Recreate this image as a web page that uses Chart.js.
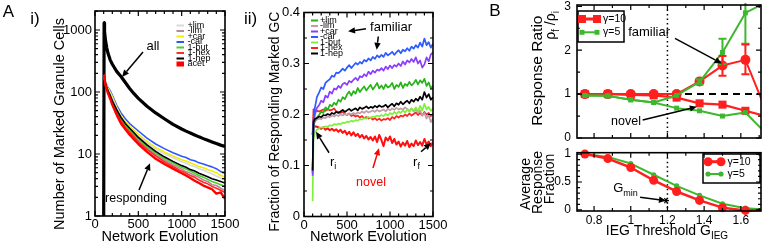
<!DOCTYPE html>
<html>
<head>
<meta charset="utf-8">
<script src="https://cdn.jsdelivr.net/npm/chart.js@4.4.1/dist/chart.umd.min.js"></script>
<style>
  html, body { margin: 0; padding: 0; background: #fff; }
  body { position: relative; width: 763px; height: 246px; overflow: hidden; }
  canvas { position: absolute; }
</style>
</head>
<body>
<canvas id="cA1" width="240" height="246" style="left:0px;top:0px"></canvas>
<canvas id="cA2" width="210" height="246" style="left:240px;top:0px"></canvas>
<canvas id="cB1" width="283" height="146" style="left:480px;top:0px"></canvas>
<canvas id="cB2" width="283" height="106" style="left:480px;top:140px"></canvas>
<script>
// ---- panel A i) : number of marked granule cells (log axis) ----
const TIME_A1 = [100,105,110,120,135,150,175,200,250,300,350,400,450,500,600,700,800,900,1000,1050,1100,1150,1200,1250,1300,1350,1400,1450,1500];
const ALL_A1       = [0.5,1300,950,700,520,420,330,280,215,178,142,114,94,79,59,46,37,30,25.3,23.4,21.8,20.3,18.9,17.7,16.6,15.6,14.7,13.9,13.2];
const PLUS_LIM_A1  = [null,185,166,144,124,110,95,79,54,40,31.5,26.5,22.5,19.5,15,12,10.1,8.7,7.5,7.1,6.6,6.3,5.8,5.5,5.1,4.8,4.4,4.1,3.8];
const MINUS_LIM_A1 = [null,185,163,136,116,100,83,67,48,36,28.5,23.8,20,16.8,12.6,9.8,8.0,6.7,5.7,5.2,4.9,4.5,4.2,3.8,3.6,3.2,3.1,2.8,2.6];
const PLUS_CAR_A1  = [null,185,168,147,127,114,100,84,57,42,33.5,28,24,20.8,16,12.8,10.8,9.3,8.1,7.7,7.2,6.8,6.3,6.0,5.6,5.3,5.0,4.5,4.3];
const MINUS_CAR_A1 = [null,185,170,150,130,118,105,88,61,46,37,31,27,23.5,18,14.5,12.2,10.5,9.2,8.8,8.1,7.8,7.2,6.9,6.5,6.2,5.8,5.2,5.0];
const BUT_A1       = [null,185,164,138,118,103,86,70,50,37.5,29.5,24.8,21,17.6,13.3,10.4,8.5,7.2,6.1,5.7,5.3,4.9,4.5,4.2,3.9,3.6,3.4,3.2,3.0];
const HEX_A1       = [null,185,162,134,113,97,80,64,46,34,27,22.5,19,15.8,11.9,9.3,7.5,6.3,5.3,4.9,4.5,4.2,3.8,3.5,3.3,3.0,2.8,2.6,2.4];
const HEP_A1       = [null,185,165,140,120,105,88,72,52,39,31,26,22,18.5,14,11,9.0,7.6,6.5,6.1,5.6,5.3,4.9,4.6,4.3,4.0,3.8,3.6,3.4];
const ACET_A1      = [null,185,160,130,110,95,78,62,43,31,25,20.5,17.2,14.5,10.8,8.4,6.9,5.8,4.9,4.5,4.1,3.7,3.4,3.1,2.9,2.7,2.3,2.4,1.9];

// ---- panel A ii) : fraction of responding marked GC ----
const TIME_A2 = [100,110,125,150,175,200,225,250,275,300,325,350,375,400,425,450,475,500,525,550,575,600,625,650,675,700,725,750,775,800,825,850,875,900,925,950,975,1000,1025,1050,1075,1100,1125,1150,1175,1200,1225,1250,1275,1300,1325,1350,1375,1400,1425,1450,1475,1500];
const PLUS_LIM_A2 = [.085,.175,.186,.194,.199,.206,.203,.214,.209,.219,.216,.223,.219,.229,.225,.234,.230,.239,.245,.237,.246,.241,.252,.244,.250,.255,.247,.253,.258,.249,.255,.262,.251,.257,.250,.259,.253,.256,.262,.250,.258,.254,.263,.252,.260,.256,.264,.257,.261,.268,.259,.267,.262,.270,.256,.263,.251,.257];
const MINUS_LIM_A2 = [.085,.180,.186,.190,.192,.191,.194,.193,.196,.195,.198,.196,.199,.197,.200,.198,.201,.199,.202,.200,.203,.201,.204,.202,.206,.203,.207,.204,.206,.208,.205,.209,.206,.208,.210,.206,.211,.208,.212,.209,.213,.210,.212,.209,.214,.211,.207,.212,.206,.210,.204,.208,.198,.203,.192,.199,.185,.193];
const PLUS_CAR_A2 = [.080,.180,.198,.213,.218,.227,.224,.237,.233,.245,.241,.251,.249,.256,.252,.260,.262,.258,.266,.263,.268,.272,.267,.275,.273,.279,.275,.284,.279,.286,.282,.288,.286,.291,.286,.294,.289,.296,.291,.297,.294,.300,.295,.304,.298,.306,.302,.309,.303,.312,.300,.306,.292,.298,.312,.304,.318,.322];
const MINUS_CAR_A2 = [.090,.190,.212,.234,.243,.253,.250,.262,.266,.269,.276,.274,.282,.281,.285,.290,.286,.292,.297,.291,.296,.301,.298,.303,.300,.307,.304,.310,.306,.313,.309,.316,.312,.317,.313,.321,.316,.319,.323,.317,.322,.326,.320,.327,.324,.330,.325,.333,.329,.336,.331,.341,.333,.349,.336,.342,.331,.339];
const BUT_A2 = [.030,.150,.165,.170,.173,.175,.174,.177,.176,.179,.178,.181,.180,.182,.181,.184,.183,.186,.185,.188,.186,.189,.188,.191,.190,.193,.192,.195,.193,.196,.195,.198,.196,.199,.197,.201,.198,.203,.200,.205,.201,.206,.203,.208,.204,.210,.205,.212,.207,.214,.206,.217,.208,.221,.210,.215,.207,.212];
const HEX_A2 = [.160,.210,.209,.207,.206,.208,.210,.207,.211,.208,.209,.212,.206,.205,.203,.205,.201,.199,.202,.197,.199,.196,.198,.194,.197,.193,.195,.192,.194,.190,.193,.189,.192,.188,.191,.190,.193,.189,.195,.192,.197,.194,.198,.196,.200,.197,.202,.198,.201,.204,.199,.203,.198,.205,.200,.203,.197,.201];
const HEP_A2 = [.090,.185,.191,.193,.196,.195,.199,.198,.201,.199,.203,.201,.205,.203,.206,.209,.205,.208,.211,.207,.210,.212,.208,.214,.211,.213,.216,.212,.215,.213,.217,.214,.218,.215,.216,.219,.214,.218,.221,.216,.222,.219,.225,.220,.224,.227,.222,.229,.225,.231,.227,.235,.229,.244,.233,.240,.229,.234];
const ACET_A2 = [.160,.175,.177,.176,.174,.172,.175,.170,.173,.169,.172,.168,.171,.166,.170,.164,.168,.161,.166,.159,.165,.158,.162,.155,.160,.153,.158,.151,.156,.149,.157,.146,.160,.150,.138,.155,.149,.157,.144,.152,.141,.147,.137,.145,.139,.148,.136,.143,.138,.149,.140,.146,.139,.152,.141,.147,.138,.146];

// ---- panel B : response ratio / average response fraction vs IEG threshold ----
const G_IEG = [0.75,0.875,1.0,1.125,1.25,1.375,1.5,1.625,1.75];
const RATIO_FAM_G10 = [1.0,1.0,1.0,1.0,1.0,1.29,1.65,1.78,0.5];
const RATIO_NOV_G10 = [1.0,1.0,0.98,0.97,0.92,0.79,0.76,0.62,0.48];
const RATIO_FAM_G5  = [0.97,0.96,0.87,0.81,0.97,1.28,1.95,2.85,3.12];
const RATIO_NOV_G5  = [0.97,0.96,0.87,0.81,0.68,0.62,0.50,0.58,0.05];
const ERR_LO_G10 = [null,null,null,null,null,null,1.42,1.45,null];
const ERR_HI_G10 = [null,null,null,null,null,null,1.87,2.13,null];
const ERR_LO_G5  = [null,null,null,null,null,1.22,1.68,2.15,null];
const ERR_HI_G5  = [null,null,null,null,null,1.34,2.26,3.3,null];
const FRAC_G10 = [1.0,0.92,0.76,0.53,0.33,0.17,0.04,-0.01,0.0];
const FRAC_G5  = [1.0,0.95,0.83,0.63,0.43,0.26,0.11,0.03,0.0];

// tick labels
const X_TICKS_A = [0,500,1000,1500];
const Y_TICKS_A1 = [1,10,100,1000];
const Y_TICKS_A2 = [0,0.1,0.2,0.3,0.4];
const X_TICKS_B = [0.8,1,1.2,1.4,1.6];
const Y_TICKS_B1 = [0,1,2,3];
const Y_TICKS_B2 = [0,0.5,1];

const FONT = '"Liberation Sans", Arial, Helvetica, sans-serif';
Chart.defaults.font.family = FONT;
Chart.defaults.color = '#000';
Chart.defaults.animation = false;
Chart.defaults.events = [];
Chart.defaults.plugins.legend.display = false;
Chart.defaults.plugins.tooltip.enabled = false;

const RED = '#ff1f1f', GREEN = '#3db82e';

const pts = (xs, ys) => xs.map((x, i) => ({ x, y: ys[i] }));

function steps(a, b, d, skip) {
  const out = [];
  for (let v = a; v <= b + 1e-9; v += d) {
    const r = +v.toFixed(4);
    if (skip && Math.abs(r / skip - Math.round(r / skip)) < 1e-6) continue;
    out.push(r);
  }
  return out;
}

function line(label, xs, ys, color, width, order, extra) {
  return Object.assign({
    label, data: pts(xs, ys), borderColor: color, backgroundColor: color,
    borderWidth: width, pointRadius: 0, tension: 0, order, clip: 0,
    borderJoinStyle: 'round'
  }, extra || {});
}

function axis(o) {
  return {
    type: o.type || 'linear', min: o.min, max: o.max, display: o.display !== false,
    afterBuildTicks: s => { s.ticks = o.ticks.map(v => ({ value: v })); },
    afterFit: s => {
      if (o.w != null) s.width = o.w;
      if (o.h != null) s.height = o.h;
      s.paddingLeft = s.paddingRight = s.paddingTop = s.paddingBottom = 0;
    },
    grid: { display: false, drawTicks: false },
    border: { display: false },
    ticks: { autoSkip: false, maxRotation: 0, minRotation: 0, padding: o.pad, font: { size: o.size }, callback: v => String(v) },
    title: o.title ? { display: true, text: o.title, font: { size: 14.5 }, padding: 0 } : { display: false }
  };
}

// inward ticks on all four sides + box
function makeFrame(t) {
  return {
    id: 'frame',
    afterDatasetsDraw(chart) {
      const { ctx, chartArea: a } = chart;
      const xs = chart.scales.x, ys = chart.scales.y;
      ctx.save();
      ctx.strokeStyle = '#000';
      ctx.lineWidth = 1.2;
      ctx.beginPath();
      const vx = (vals, len) => vals.forEach(v => {
        const p = xs.getPixelForValue(v);
        ctx.moveTo(p, a.bottom); ctx.lineTo(p, a.bottom - len);
        ctx.moveTo(p, a.top); ctx.lineTo(p, a.top + len);
      });
      const vy = (vals, len) => vals.forEach(v => {
        const p = ys.getPixelForValue(v);
        ctx.moveTo(a.left, p); ctx.lineTo(a.left + len, p);
        ctx.moveTo(a.right, p); ctx.lineTo(a.right - len, p);
      });
      vx(t.xMajor, 5); vx(t.xMinor, 3); vy(t.yMajor, 5); vy(t.yMinor, 3);
      ctx.stroke();
      ctx.lineWidth = 1.6;
      ctx.strokeRect(a.left, a.top, a.right - a.left, a.bottom - a.top);
      ctx.restore();
    }
  };
}

function drawText(ctx, x, y, it) {
  const size = it.size || 12, ss = Math.round(size * 0.68);
  const parts = it.sub ? [[it.text, false], [it.sub, true]] : (it.parts || [[it.text, false]]);
  ctx.save();
  ctx.translate(x, y);
  if (it.rot) ctx.rotate(it.rot * Math.PI / 180);
  ctx.fillStyle = it.color || '#000';
  ctx.textBaseline = 'middle';
  ctx.textAlign = 'left';
  let w = 0;
  parts.forEach(([s, sub]) => { ctx.font = (sub ? ss : size) + 'px ' + FONT; w += ctx.measureText(s).width; });
  let cx = it.align === 'left' ? 0 : -w / 2;
  parts.forEach(([s, sub]) => {
    ctx.font = (sub ? ss : size) + 'px ' + FONT;
    ctx.fillText(s, cx, sub ? size * 0.38 : 0);
    cx += ctx.measureText(s).width;
  });
  ctx.restore();
}

function arrow(ctx, x1, y1, x2, y2, color, width) {
  const ang = Math.atan2(y2 - y1, x2 - x1), hl = 7, hw = 3.2;
  const bx = x2 - hl * Math.cos(ang), by = y2 - hl * Math.sin(ang);
  ctx.strokeStyle = ctx.fillStyle = color;
  ctx.lineWidth = width;
  ctx.beginPath(); ctx.moveTo(x1, y1); ctx.lineTo(bx, by); ctx.stroke();
  ctx.beginPath();
  ctx.moveTo(x2, y2);
  ctx.lineTo(bx - hw * Math.sin(ang), by + hw * Math.cos(ang));
  ctx.lineTo(bx + hw * Math.sin(ang), by - hw * Math.cos(ang));
  ctx.closePath(); ctx.fill();
}

// annotations: data coords by default, page coords when page:true
function makeNotes(items, ox, oy) {
  const at = (chart, it, p) => it.page ? [p[0] - ox, p[1] - oy]
    : [chart.scales.x.getPixelForValue(p[0]), chart.scales.y.getPixelForValue(p[1])];
  const draw = (chart, below) => {
    const { ctx, chartArea: a } = chart;
    items.filter(it => !!it.below === below).forEach(it => {
      ctx.save();
      if (it.type === 'hline' || it.type === 'vline') {
        ctx.strokeStyle = '#000'; ctx.lineWidth = it.width; ctx.setLineDash(it.dash);
        ctx.beginPath();
        if (it.type === 'hline') {
          const y = chart.scales.y.getPixelForValue(it.value);
          ctx.moveTo(a.left, y); ctx.lineTo(a.right, y);
        } else {
          const x = chart.scales.x.getPixelForValue(it.value);
          ctx.moveTo(x, a.top); ctx.lineTo(x, a.bottom);
        }
        ctx.stroke();
      } else if (it.type === 'err') {
        ctx.beginPath(); ctx.rect(a.left, a.top - 2, a.right - a.left, a.bottom - a.top + 4); ctx.clip();
        ctx.strokeStyle = it.color; ctx.lineWidth = 2;
        ctx.beginPath();
        it.x.forEach((xv, i) => {
          if (it.lo[i] == null) return;
          const x = chart.scales.x.getPixelForValue(xv);
          const y1 = chart.scales.y.getPixelForValue(it.lo[i]), y2 = chart.scales.y.getPixelForValue(it.hi[i]);
          ctx.moveTo(x, y1); ctx.lineTo(x, y2);
          ctx.moveTo(x - 4, y1); ctx.lineTo(x + 4, y1);
          ctx.moveTo(x - 4, y2); ctx.lineTo(x + 4, y2);
        });
        ctx.stroke();
      } else if (it.type === 'arrow') {
        const [x1, y1] = at(chart, it, it.from), [x2, y2] = at(chart, it, it.to);
        arrow(ctx, x1, y1, x2, y2, it.color || '#000', it.width || 1.5);
        if (it.star) {
          ctx.lineWidth = 1.2; ctx.beginPath();
          for (let k = 0; k < 3; k++) {
            const t = k * Math.PI / 3;
            ctx.moveTo(x2 - 3 * Math.cos(t), y2 - 3 * Math.sin(t));
            ctx.lineTo(x2 + 3 * Math.cos(t), y2 + 3 * Math.sin(t));
          }
          ctx.stroke();
        }
      } else {
        const [x, y] = at(chart, it, it.at);
        drawText(ctx, x, y, it);
      }
      ctx.restore();
    });
  };
  return { id: 'notes', beforeDatasetsDraw(c) { draw(c, true); }, afterDatasetsDraw(c) { draw(c, false); } };
}

function mark(ctx, ds, x, y) {
  const r = ds.pointRadius;
  ctx.fillStyle = ds.borderColor;
  ctx.beginPath();
  if (ds.pointStyle === 'rect') { const h = r * Math.SQRT1_2; ctx.rect(x - h, y - h, 2 * h, 2 * h); }
  else ctx.arc(x, y, r, 0, Math.PI * 2);
  ctx.fill();
}

function makeLegend(c) {
  return {
    id: 'legendBox',
    afterDatasetsDraw(chart) {
      const ctx = chart.ctx;
      ctx.save();
      if (c.box) {
        ctx.fillStyle = '#fff'; ctx.strokeStyle = '#000'; ctx.lineWidth = 1.5;
        ctx.fillRect(c.box[0] - c.ox, c.box[1] - c.oy, c.box[2], c.box[3]);
        ctx.strokeRect(c.box[0] - c.ox, c.box[1] - c.oy, c.box[2], c.box[3]);
      }
      c.items.forEach((di, k) => {
        const ds = chart.data.datasets[di];
        const y = c.y - c.oy + k * c.step, x0 = c.x - c.ox, x1 = x0 + c.len;
        if (ds.swatch === 'box') {
          ctx.fillStyle = ds.borderColor; ctx.fillRect(x0, y - 2.5, c.len, 5);
        } else {
          ctx.strokeStyle = ds.borderColor; ctx.lineWidth = c.lw ? c.lw[k] : 2;
          ctx.beginPath(); ctx.moveTo(x0, y); ctx.lineTo(x1, y); ctx.stroke();
        }
        if (c.marks) { mark(ctx, ds, x0 + 1, y); mark(ctx, ds, x1 - 1, y); }
        ctx.fillStyle = '#000'; ctx.font = c.size + 'px ' + FONT;
        ctx.textBaseline = 'middle'; ctx.textAlign = 'left';
        ctx.fillText(ds.label, c.tx - c.ox, y);
      });
      ctx.restore();
    }
  };
}

// ---------------- A i) ----------------
new Chart(document.getElementById('cA1'), {
  type: 'line',
  data: { datasets: [
    line('+lim', TIME_A1, PLUS_LIM_A1, '#d9d9d9', 1.6, 6),
    line('-lim', TIME_A1, MINUS_LIM_A1, '#b58a94', 1.6, 4),
    line('+car', TIME_A1, PLUS_CAR_A1, '#eeee00', 1.6, 7),
    line('-car', TIME_A1, MINUS_CAR_A1, '#2f55ff', 1.6, 8),
    line('1-but', TIME_A1, BUT_A1, '#45d12a', 1.6, 3),
    line('1-hex', TIME_A1, HEX_A1, '#ff2a2a', 1.6, 2),
    line('1-hep', TIME_A1, HEP_A1, '#000000', 1.6, 1),
    line('acet', TIME_A1, ACET_A1, '#ff0000', 2.4, 0, { swatch: 'box' }),
    line('all', TIME_A1, ALL_A1, '#000000', 3.2, 9)
  ]},
  options: {
    responsive: false,
    layout: { padding: { top: 11, right: 15, bottom: 0, left: 0 }, autoPadding: false },
    scales: {
      x: axis({ min: 0, max: 1500, ticks: X_TICKS_A, h: 30, pad: 1, size: 13, title: 'Network Evolution' }),
      y: axis({ type: 'logarithmic', min: 1, max: 2024, ticks: Y_TICKS_A1, w: 95, pad: 3, size: 13 })
    }
  },
  plugins: [
    makeNotes([
      { page: true, at: [8.3, 12.5], text: 'A', size: 17 },
      { page: true, at: [35, 19], text: 'i)', size: 17 },
      { page: true, at: [60, 124], text: 'Number of Marked Granule Cells', size: 14.5, rot: -90 },
      { at: [669, 552], text: 'all', size: 13 },
      { type: 'arrow', from: [554, 442], to: [312, 175] },
      { at: [473, 1.88], text: 'responding', size: 12.5 },
      { type: 'arrow', from: [508, 2.63], to: [635, 7.1] }
    ], 0, 0),
    makeLegend({ items: [0, 1, 2, 3, 4, 5, 6, 7], x: 176.5, len: 7.5, tx: 187.5, y: 25.5, step: 5.5, size: 9, ox: 0, oy: 0 }),
    makeFrame({
      xMajor: X_TICKS_A, xMinor: steps(100, 1400, 100, 500),
      yMajor: Y_TICKS_A1,
      yMinor: [1, 10, 100, 1000].flatMap(d => [2, 3, 4, 5, 6, 7, 8, 9].map(k => k * d)).filter(v => v < 2024)
    })
  ]
});

// ---------------- A ii) ----------------
new Chart(document.getElementById('cA2'), {
  type: 'line',
  data: { datasets: [
    line('+lim', TIME_A2, PLUS_LIM_A2, '#25b318', 1.7, 3),
    line('-lim', TIME_A2, MINUS_LIM_A2, '#c49ca6', 1.7, 5),
    line('+car', TIME_A2, PLUS_CAR_A2, '#8a3dff', 1.7, 2),
    line('-car', TIME_A2, MINUS_CAR_A2, '#2c5bff', 1.7, 1),
    line('1-but', TIME_A2, BUT_A2, '#7ef03a', 1.7, 4),
    line('1-hex', TIME_A2, HEX_A2, '#ff2020', 1.7, 6),
    line('1-hep', TIME_A2, HEP_A2, '#000000', 1.7, 0),
    line('acet', TIME_A2, ACET_A2, '#ff1010', 2, 7)
  ]},
  options: {
    responsive: false,
    layout: { padding: { top: 12.5, right: 17, bottom: 0, left: 0 }, autoPadding: false },
    scales: {
      x: axis({ min: 0, max: 1500, ticks: X_TICKS_A, h: 29.5, pad: 1, size: 13, title: 'Network Evolution' }),
      y: axis({ min: 0, max: 0.4, ticks: Y_TICKS_A2, w: 64, pad: 4, size: 13 })
    }
  },
  plugins: [
    makeNotes([
      { page: true, at: [250.5, 19.5], text: 'ii)', size: 17 },
      { page: true, at: [275, 121.7], text: 'Fraction of Responding Marked GC', size: 14, rot: -90 },
      { at: [1012, 0.371], text: 'familiar', size: 13 },
      { type: 'arrow', from: [721, 0.368], to: [512, 0.363] },
      { type: 'arrow', from: [864, 0.353], to: [845, 0.327] },
      { at: [302, 0.107], text: 'r', sub: 'i', size: 13, align: 'left' },
      { type: 'arrow', from: [291, 0.125], to: [140, 0.166] },
      { at: [779, 0.066], text: 'novel', size: 12.5, color: '#ff0000' },
      { type: 'arrow', from: [802, 0.095], to: [872, 0.134], color: '#ff0000' },
      { at: [1268, 0.107], text: 'r', sub: 'f', size: 13, align: 'left' },
      { type: 'arrow', from: [1361, 0.127], to: [1477, 0.144] }
    ], 240, 0),
    makeLegend({ items: [0, 1, 2, 3, 4, 5, 6], x: 311, len: 7, tx: 320, y: 20.5, step: 5.5, size: 9, ox: 240, oy: 0 }),
    makeFrame({
      xMajor: X_TICKS_A, xMinor: steps(100, 1400, 100, 500),
      yMajor: Y_TICKS_A2, yMinor: [0.05, 0.15, 0.25, 0.35]
    })
  ]
});

// ---------------- B top ----------------
const bClip = { left: 6, top: 6, right: 0, bottom: 6 };
new Chart(document.getElementById('cB1'), {
  type: 'line',
  data: { datasets: [
    line('γ=5', G_IEG, RATIO_FAM_G5, GREEN, 2, 0, { pointRadius: 3.5, pointStyle: 'rect', pointBorderWidth: 0, clip: bClip }),
    line('γ=5', G_IEG, RATIO_NOV_G5, GREEN, 2, 1, { pointRadius: 3.5, pointStyle: 'rect', pointBorderWidth: 0, clip: bClip }),
    line('γ=10', G_IEG, RATIO_FAM_G10, RED, 2, 2, { pointRadius: 5, pointStyle: 'circle', pointBorderWidth: 0, clip: bClip }),
    line('γ=10', G_IEG, RATIO_NOV_G10, RED, 2.2, 3, { pointRadius: 5.7, pointStyle: 'rect', pointBorderWidth: 0, clip: bClip })
  ]},
  options: {
    responsive: false,
    layout: { padding: { top: 5, right: 2, bottom: 8, left: 0 }, autoPadding: false },
    scales: {
      x: axis({ min: 0.707, max: 1.71, ticks: X_TICKS_B, display: false }),
      y: axis({ min: 0, max: 3.03, ticks: Y_TICKS_B1, w: 97, pad: 6, size: 12 })
    }
  },
  plugins: [
    makeNotes([
      { type: 'hline', value: 1, dash: [7, 5], width: 2, below: true },
      { type: 'vline', value: 1.2, dash: [1.5, 3], width: 1.5, below: true },
      { type: 'err', x: G_IEG, lo: ERR_LO_G5, hi: ERR_HI_G5, color: GREEN },
      { type: 'err', x: G_IEG, lo: ERR_LO_G10, hi: ERR_HI_G10, color: RED },
      { page: true, at: [495, 11.5], text: 'B', size: 17 },
      { page: true, at: [537.5, 70.7], text: 'Response Ratio', size: 15.5, rot: -90 },
      { page: true, at: [551, 25.5], parts: [['ρ', false], ['f', true], [' /ρ', false], ['i', true]], size: 14, rot: -90 },
      { at: [1.10, 2.40], text: 'familiar', size: 13 },
      { type: 'arrow', from: [1.241, 2.27], to: [1.496, 1.70] },
      { at: [0.974, 0.386], text: 'novel', size: 12.5 },
      { type: 'arrow', from: [1.065, 0.41], to: [1.36, 0.71] }
    ], 480, 0),
    makeLegend({ items: [3, 1], box: [578, 11, 46, 31], marks: true, lw: [3, 2], x: 581, len: 17, tx: 603, y: 19, step: 13.3, size: 10.5, ox: 480, oy: 0 }),
    makeFrame({
      xMajor: X_TICKS_B, xMinor: [0.9, 1.1, 1.3, 1.5, 1.7],
      yMajor: Y_TICKS_B1, yMinor: [0.5, 1.5, 2.5]
    })
  ]
});

// ---------------- B bottom ----------------
new Chart(document.getElementById('cB2'), {
  type: 'line',
  data: { datasets: [
    line('γ=10', G_IEG, FRAC_G10, RED, 2.5, 0, { pointRadius: 4.5, pointStyle: 'circle', pointBorderWidth: 0, clip: bClip }),
    line('γ=5', G_IEG, FRAC_G5, GREEN, 2, 1, { pointRadius: 2.6, pointStyle: 'circle', pointBorderWidth: 0, clip: bClip })
  ]},
  options: {
    responsive: false,
    layout: { padding: { top: 12.7, right: 2, bottom: 0, left: 0 }, autoPadding: false },
    scales: {
      x: axis({ min: 0.707, max: 1.71, ticks: X_TICKS_B, h: 35, pad: 2.6, size: 12 }),
      y: axis({ min: -0.02, max: 1.025, ticks: Y_TICKS_B2, w: 97, pad: 6, size: 12 })
    }
  },
  plugins: [
    makeNotes([
      { type: 'vline', value: 1.2, dash: [1.5, 3], width: 1.5, below: true },
      { page: true, at: [526, 184], text: 'Average', size: 14, rot: -90 },
      { page: true, at: [538.5, 182.5], text: 'Response', size: 14, rot: -90 },
      { page: true, at: [550.5, 179], text: 'Fraction', size: 14, rot: -90 },
      { page: true, at: [667, 231], text: 'IEG Threshold G', sub: 'IEG', size: 14 },
      { at: [0.904, 0.39], text: 'G', sub: 'min', size: 13, align: 'left' },
      { type: 'arrow', from: [1.051, 0.227], to: [1.192, 0.166], star: true }
    ], 480, 140),
    makeLegend({ items: [0, 1], box: [703, 154, 57, 29], marks: true, lw: [3, 2], x: 707, len: 15, tx: 727.5, y: 161.7, step: 12.3, size: 10.5, ox: 480, oy: 140 }),
    makeFrame({
      xMajor: X_TICKS_B, xMinor: [0.9, 1.1, 1.3, 1.5, 1.7],
      yMajor: Y_TICKS_B2, yMinor: [0.1, 0.2, 0.3, 0.4, 0.6, 0.7, 0.8, 0.9]
    })
  ]
});
</script>
</body>
</html>
